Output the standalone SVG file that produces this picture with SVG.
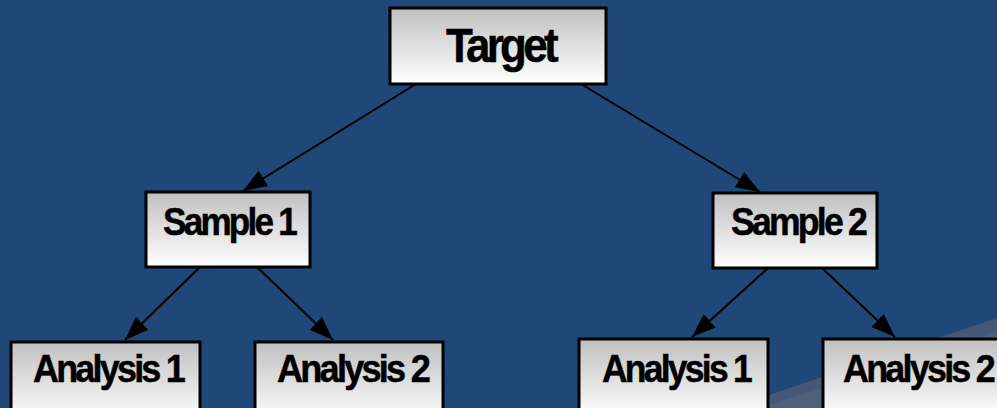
<svg xmlns="http://www.w3.org/2000/svg" width="997" height="408" viewBox="0 0 997 408">
<defs>
<linearGradient id="g" x1="0" y1="0" x2="0" y2="1">
<stop offset="0" stop-color="#c0c0c0"/>
<stop offset="1" stop-color="#ffffff"/>
</linearGradient>
<marker id="ah" markerUnits="userSpaceOnUse" markerWidth="24" markerHeight="24" viewBox="0 0 24 24" refX="24" refY="12" orient="auto">
<path d="M0,3 L24,12 L0,21 Z" fill="#000"/>
</marker>
<style>
.box{fill:url(#g);stroke:#000;stroke-width:3}
.t{font-family:"Liberation Sans",Arial,sans-serif;font-weight:bold;fill:#000;stroke:#000;stroke-width:0.5}
.c{stroke:#000;stroke-width:2;fill:none;marker-end:url(#ah)}
</style>
</defs>
<rect width="997" height="408" fill="#1f4778"/>
<polygon points="730,408 997,318 997,408" fill="#45587a"/>
<polygon points="760,408 997,332 997,408" fill="#4e5f78"/>
<g id="connectors">
<line class="c" x1="416" y1="84" x2="243" y2="191"/>
<line class="c" x1="581" y1="84" x2="760" y2="192"/>
<line class="c" x1="200" y1="267" x2="125" y2="340"/>
<line class="c" x1="257" y1="267" x2="333" y2="340"/>
<line class="c" x1="768" y1="268" x2="692" y2="337"/>
<line class="c" x1="822" y1="268" x2="895" y2="337"/>
</g>
<g id="target">
<rect class="box" x="390" y="8" width="216" height="76"/>
<text class="t" x="446" y="62" font-size="48" letter-spacing="-4" textLength="109" lengthAdjust="spacingAndGlyphs">Target</text>
</g>
<g id="sample1">
<rect class="box" x="146" y="192" width="164" height="75"/>
<text class="t" x="163" y="235" font-size="38" letter-spacing="-3" textLength="132" lengthAdjust="spacingAndGlyphs">Sample 1</text>
</g>
<g id="sample2">
<rect class="box" x="713" y="193" width="164" height="75"/>
<text class="t" x="731" y="235" font-size="38" letter-spacing="-3" textLength="134" lengthAdjust="spacingAndGlyphs">Sample 2</text>
</g>
<g id="analysis1a">
<rect class="box" x="11" y="342" width="189" height="80"/>
<text class="t" x="33" y="382" font-size="39" letter-spacing="-3" textLength="150" lengthAdjust="spacingAndGlyphs">Analysis 1</text>
</g>
<g id="analysis2a">
<rect class="box" x="255" y="342" width="188" height="80"/>
<text class="t" x="277" y="382" font-size="39" letter-spacing="-3" textLength="151" lengthAdjust="spacingAndGlyphs">Analysis 2</text>
</g>
<g id="analysis1b">
<rect class="box" x="579" y="339" width="189" height="80"/>
<text class="t" x="602" y="382" font-size="39" letter-spacing="-3" textLength="148" lengthAdjust="spacingAndGlyphs">Analysis 1</text>
</g>
<g id="analysis2b">
<rect class="box" x="823" y="339" width="189" height="80"/>
<text class="t" x="843" y="382" font-size="39" letter-spacing="-3" textLength="150" lengthAdjust="spacingAndGlyphs">Analysis 2</text>
</g>
</svg>
